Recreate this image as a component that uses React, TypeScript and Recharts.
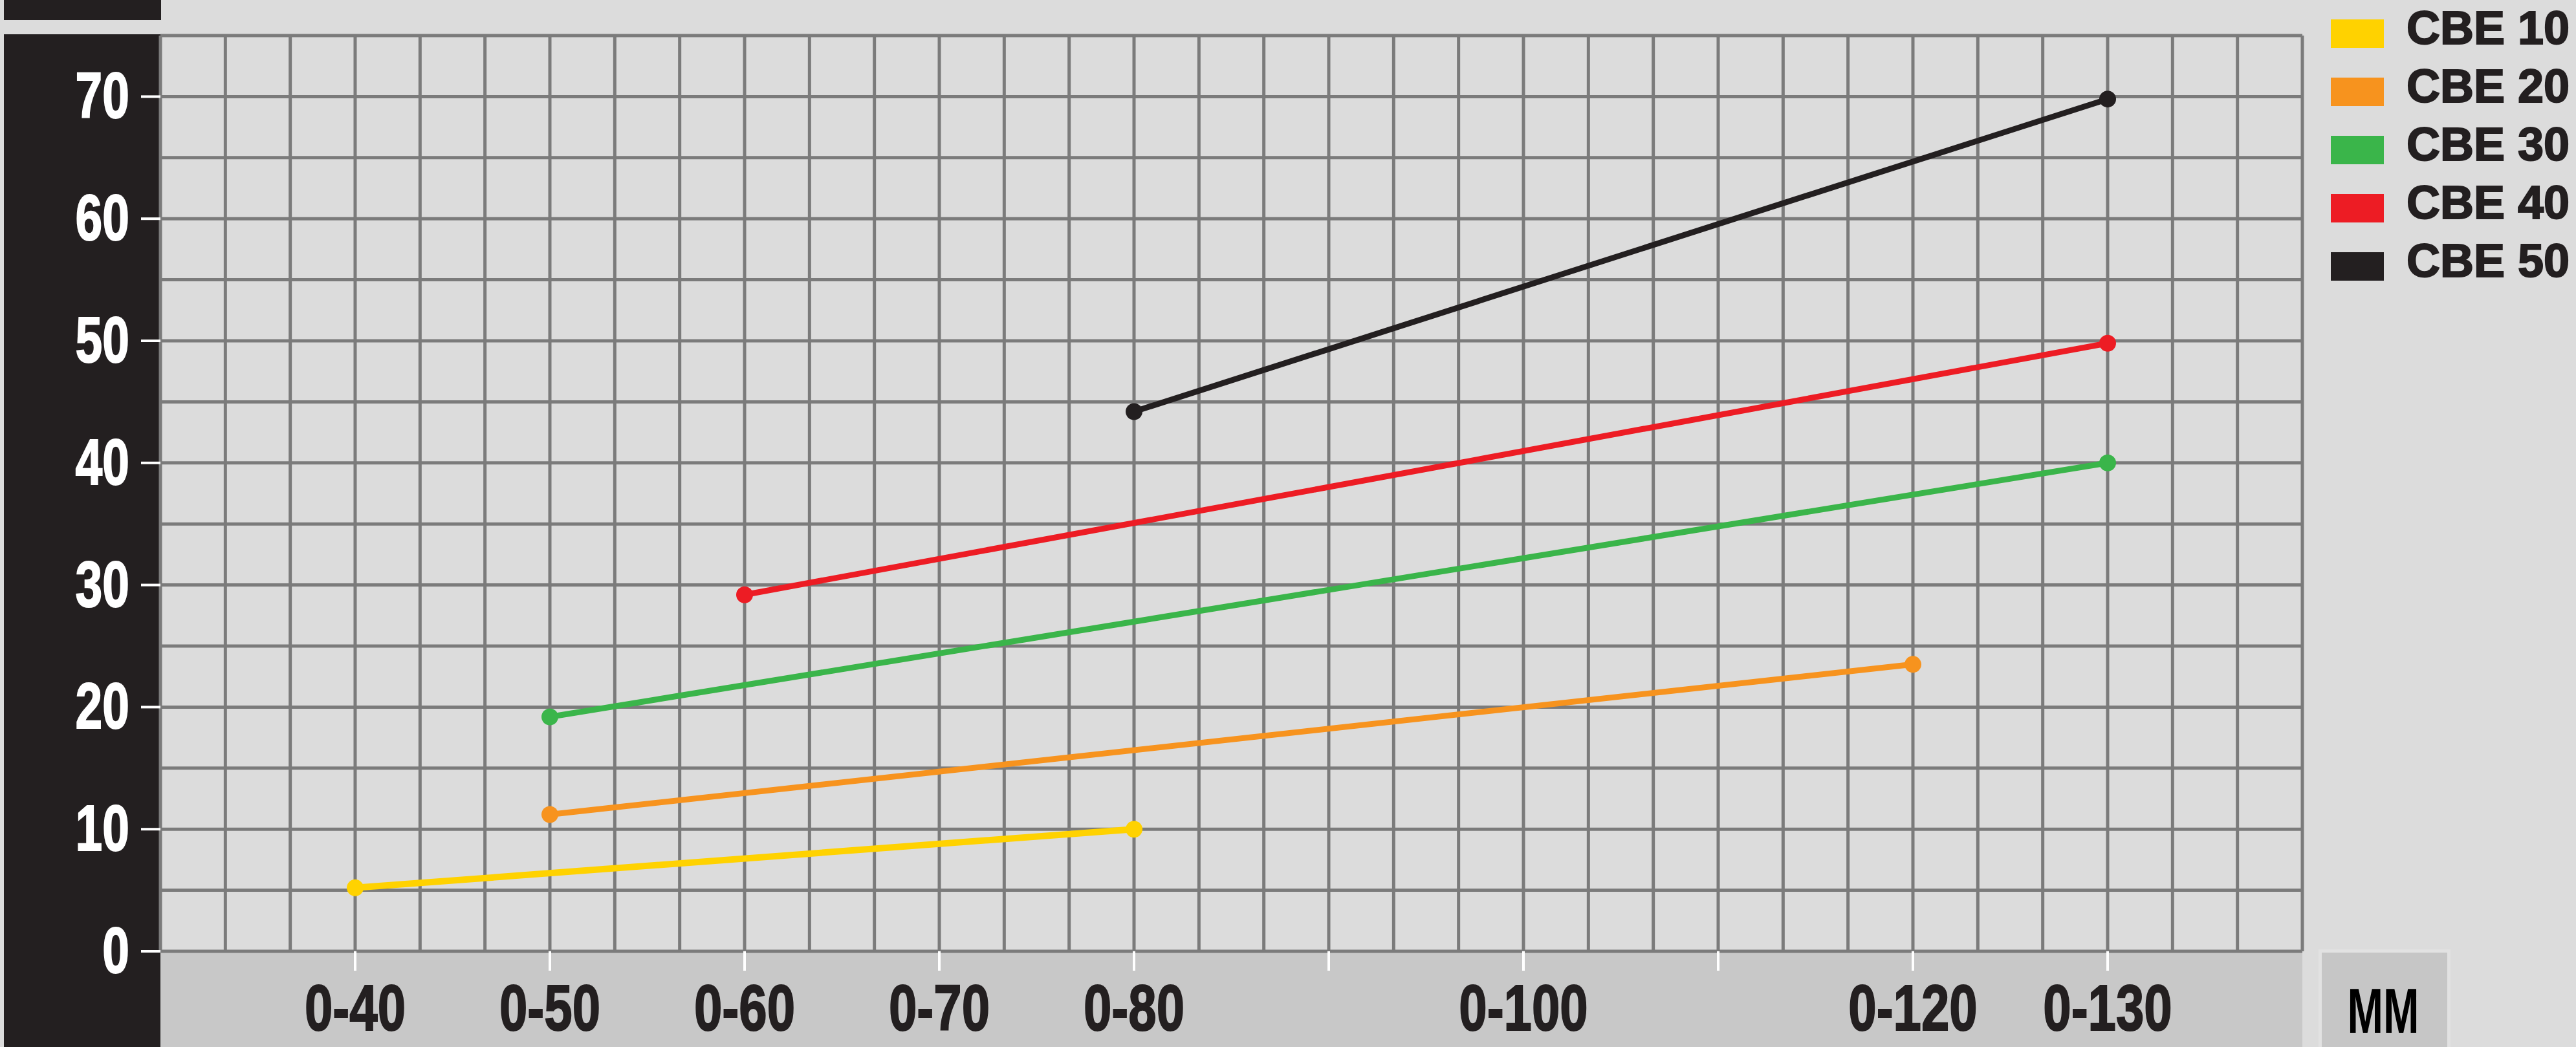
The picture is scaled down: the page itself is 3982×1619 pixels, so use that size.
import React from 'react';
import { LineChart, Line, XAxis, YAxis, CartesianGrid, Legend } from 'recharts';

// x positions are the upper end of each range (0-40 -> 40 mm)
const xTicks = [40, 50, 60, 70, 80, 90, 100, 110, 120, 130];
const xTickLabels = ['0-40', '0-50', '0-60', '0-70', '0-80', '', '0-100', '', '0-120', '0-130'];
const yTicks = [0, 10, 20, 30, 40, 50, 60, 70];

const seriesNames = ['CBE 10', 'CBE 20', 'CBE 30', 'CBE 40', 'CBE 50'];
const seriesColors = ['#ffd200', '#f7931e', '#3ab54a', '#ed1c24', '#231f20'];
const seriesX = [
  [40, 80],
  [50, 120],
  [50, 130],
  [60, 130],
  [80, 130],
];
const seriesY = [
  [5.2, 10],
  [11.2, 23.5],
  [19.2, 40],
  [29.2, 49.8],
  [44.2, 69.8],
];

const W = 3982;
const H = 1619;
const BG = '#dcdcdc';
const DARK = '#231f20';
const FONT = '"Liberation Sans", Arial, sans-serif';

// grid every third of a range step, every 5 units vertically
const gridX = Array.from({ length: 34 }, (_, i) => 30 + (i * 10) / 3);
const gridY = Array.from({ length: 16 }, (_, i) => i * 5);

const series = seriesNames.map((name, i) => ({
  name,
  color: seriesColors[i],
  data: seriesX[i].map((x, j) => ({ x, y: seriesY[i][j] })),
}));

function YTick({ x, y, payload }: any) {
  return (
    <text
      transform={`translate(${x},${y}) scale(0.75,1)`}
      x={0}
      y={0}
      dy={33}
      textAnchor="end"
      fill="#ffffff"
      stroke="#ffffff"
      strokeWidth={2}
      style={{ fontFamily: FONT, fontWeight: 700, fontSize: 100 }}
    >
      {payload.value}
    </text>
  );
}

function XTick({ x, y, payload }: any) {
  const idx = xTicks.indexOf(payload.value);
  const label = idx >= 0 ? xTickLabels[idx] : '';
  if (!label) return null;
  return (
    <text
      transform={`translate(${x},${y}) scale(0.78,1)`}
      x={0}
      y={0}
      dy={92}
      textAnchor="middle"
      fill={DARK}
      stroke={DARK}
      strokeWidth={2}
      style={{ fontFamily: FONT, fontWeight: 700, fontSize: 100 }}
    >
      {label}
    </text>
  );
}

function LegendBox({ payload }: any) {
  return (
    <div style={{ fontFamily: FONT, fontWeight: 700 }}>
      {(payload || []).map((p: any, i: number) => (
        <div key={i} style={{ position: 'relative', height: 90 }}>
          <div
            style={{
              position: 'absolute',
              left: 0,
              top: 33,
              width: 82,
              height: 44,
              background: p.color,
            }}
          />
          <div
            style={{
              position: 'absolute',
              left: 117,
              top: 4,
              fontSize: 72,
              lineHeight: '84px',
              color: DARK,
              whiteSpace: 'nowrap',
              WebkitTextStroke: `2px ${DARK}`,
            }}
          >
            {p.value}
          </div>
        </div>
      ))}
    </div>
  );
}

export default function App() {
  return (
    <div style={{ position: 'absolute', left: 0, top: 0, width: W, height: H, background: BG, overflow: 'hidden' }}>
      {/* dark header block and y axis panel */}
      <div style={{ position: 'absolute', left: 6, top: 0, width: 243, height: 31, background: DARK }} />
      <div style={{ position: 'absolute', left: 6, top: 53, width: 243, height: H - 53, background: DARK }} />
      {/* x axis band */}
      <div style={{ position: 'absolute', left: 248, top: 1472, width: 3311, height: H - 1472, background: '#c8c8c8' }} />
      {/* unit box */}
      <div
        style={{
          position: 'absolute',
          left: 3584,
          top: 1468,
          width: 194,
          height: H - 1468,
          background: '#c6c6c6',
          border: '5px solid #e2e2e2',
          borderBottom: 'none',
        }}
      />
      <svg style={{ position: 'absolute', left: 0, top: 0 }} width={W} height={H}>
        <text
          transform="translate(3684,1597) scale(0.68,1)"
          textAnchor="middle"
          fill="#000"
          style={{ fontFamily: FONT, fontWeight: 700, fontSize: 98 }}
        >
          MM
        </text>
      </svg>
      <div style={{ position: 'absolute', left: 0, top: 0 }}>
        <LineChart width={W} height={H} margin={{ top: 55, right: 423, bottom: 0, left: 0 }}>
          <CartesianGrid
            stroke="#7b7b7b"
            strokeWidth={5}
            horizontalValues={gridY}
            verticalValues={gridX}
          />
          <XAxis
            dataKey="x"
            type="number"
            domain={[30, 140]}
            ticks={xTicks}
            interval={0}
            height={148}
            tickSize={30}
            tickMargin={0}
            axisLine={false}
            tickLine={{ stroke: '#ffffff', strokeWidth: 4 }}
            tick={<XTick />}
            allowDataOverflow
          />
          <YAxis
            type="number"
            domain={[0, 75]}
            ticks={yTicks}
            interval={0}
            width={248}
            tickSize={30}
            tickMargin={18}
            axisLine={false}
            tickLine={{ stroke: '#ffffff', strokeWidth: 4 }}
            tick={<YTick />}
            allowDataOverflow
          />
          <Legend
            layout="vertical"
            align="center"
            verticalAlign="middle"
            content={<LegendBox />}
            wrapperStyle={{ left: 3603, top: -3, width: 379, height: 460 }}
          />
          {series.map((s, i) => (
            <Line
              key={s.name}
              data={s.data}
              dataKey="y"
              name={s.name}
              stroke={s.color}
              strokeWidth={i === 0 ? 10 : 9}
              dot={{ r: 13, fill: s.color, stroke: s.color, strokeWidth: 0 }}
              activeDot={false}
              isAnimationActive={false}
            />
          ))}
        </LineChart>
      </div>
    </div>
  );
}
